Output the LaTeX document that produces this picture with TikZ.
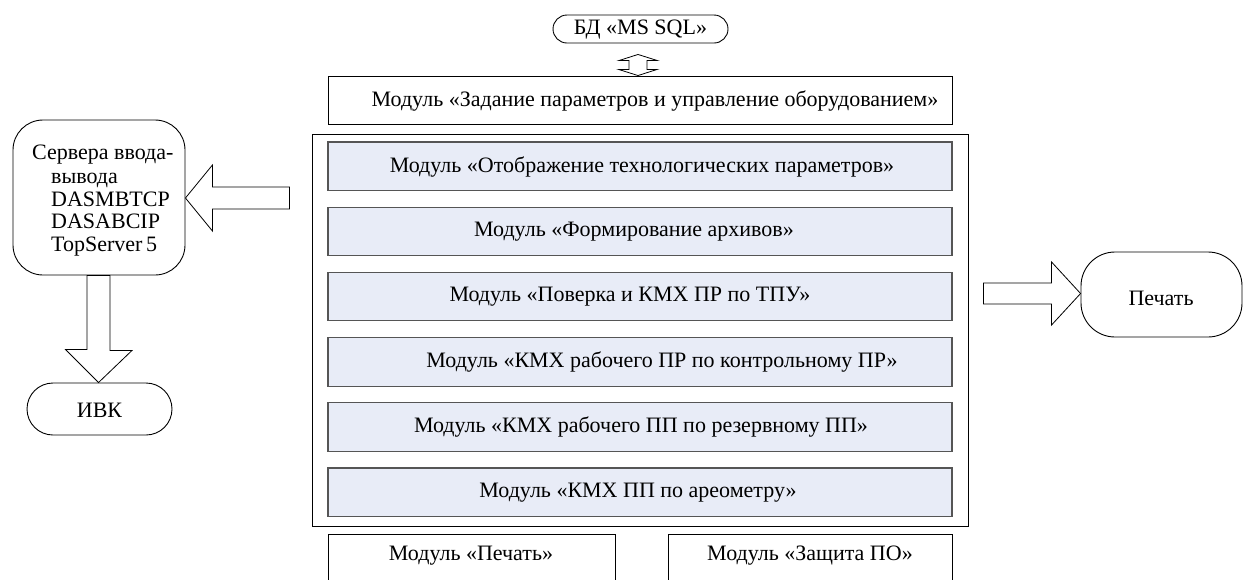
\documentclass[tikz,border=0pt]{standalone}
\usepackage{fontspec}
\setmainfont{Liberation Serif}
\usetikzlibrary{calc}
\definecolor{modfill}{RGB}{232,236,247}
\definecolor{modline}{RGB}{85,85,85}
\tikzset{
  every node/.style={font=\fontsize{22}{22.5}\selectfont, inner sep=0pt},
  plainbox/.style={draw=black, line width=0.9pt, minimum width=624pt, minimum height=48pt},
  modbox/.style={draw=modline, fill=modfill, line width=1.1pt, minimum width=624pt, minimum height=48.5pt},
  frame/.style={draw=black, line width=0.9pt, minimum width=656pt, minimum height=392pt},
  roundbox/.style={draw=black, line width=0.9pt, rounded corners=#1},
  blockarrow/.style={draw=black, line width=0.8pt, fill=white, line join=miter},
  txt/.style={inner sep=0pt}
}
\begin{document}
\begin{tikzpicture}[x=1pt,y=-1pt]
\useasboundingbox (0,0) rectangle (1244,579);
% database
\node[roundbox=14pt, minimum width=175pt, minimum height=28pt] (db) at (640.5,29) {};
\node[txt] (dbt) at (640.5,29.5) {БД «MS SQL»};
% top module
\node[plainbox] (m0) at (640,100) {};
\node[txt] (m0t) at (655,100.5) {Модуль «Задание параметров и управление оборудованием»};
% frame
\node[frame] (fr) at (640,330) {};
% inner modules
\node[modbox] (m1) at (640,166.25) {};
\node[txt] (m1t) at (642,166.5) {Модуль «Отображение технологических параметров»};
\node[modbox] (m2) at (640,231.45) {};
\node[txt] (m2t) at (634,231.7) {Модуль «Формирование архивов»};
\node[modbox] (m3) at (640,296.65) {};
\node[txt] (m3t) at (630,296.9) {Модуль «Поверка и КМХ ПР по ТПУ»};
\node[modbox] (m4) at (640,361.85) {};
\node[txt] (m4t) at (662,362.1) {Модуль «КМХ рабочего ПР по контрольному ПР»};
\node[modbox] (m5) at (640,427.05) {};
\node[txt] (m5t) at (641,427.3) {Модуль «КМХ рабочего ПП по резервному ПП»};
\node[modbox] (m6) at (640,492.25) {};
\node[txt] (m6t) at (638,492.5) {Модуль «КМХ ПП по ареометру»};
% bottom modules (cut by the page edge)
\node[draw=black, line width=0.9pt, minimum width=287pt, minimum height=66pt] (mp) at (471.5,567) {};
\node[txt] (mpt) at (471,556) {Модуль «Печать»};
\node[draw=black, line width=0.9pt, minimum width=284pt, minimum height=66pt] (mz) at (810,567) {};
\node[txt] (mzt) at (810,556) {Модуль «Защита ПО»};
% servers
\node[roundbox=30pt, minimum width=172pt, minimum height=155pt] (srv) at (99,197.5) {};
\node[txt, anchor=base west] (s1) at (32,159) {Сервера ввода-};
\node[txt, anchor=north west, align=left] (s2) at (51,173) {вывода\\DASMBTCP\\DASABCIP\\TopServer\,5};
% IVK
\node[roundbox=26pt, minimum width=145pt, minimum height=52pt] (ivk) at (99.5,409) {};
\node[txt] (ivkt) at (99.5,410) {ИВК};
% print
\node[roundbox=34pt, minimum width=161pt, minimum height=85pt] (pr) at (1161.5,294.5) {};
\node[txt] (prt) at (1161,298) {Печать};
% double arrow between DB and top module
\coordinate (dtop) at ($(db.south)+(-2.5,11)$);
\coordinate (dbot) at (m0.north -| dtop);
\draw[blockarrow] (dtop) -- ++(19,6) -- ++(-10,0) -- ++(0,9) -- ++(10,0) -- (dbot) -- ++(-19,-6) -- ++(10,0) -- ++(0,-9) -- ++(-10,0) -- cycle;
% arrow frame -> servers
\coordinate (ltip) at (srv.east |- 0,198);
\draw[blockarrow] (ltip) -- ++(27,-33) -- ++(0,22) -- ++(77,0) -- ++(0,22) -- ++(-77,0) -- ++(0,22) -- cycle;
% arrow servers -> IVK
\coordinate (dtip) at (ivk.north -| 98.5,0);
\coordinate (dsrc) at (srv.south -| 98.5,0);
\draw[blockarrow] (dtip) -- ++(-33,-33) -- ++(21.5,0) -- (dsrc -| 87,0) -- (dsrc -| 110,0) -- ++(0,75) -- ++(22,0) -- cycle;
% arrow frame -> print
\coordinate (rtip) at (pr.west |- 0,293.5);
\draw[blockarrow] (rtip) -- ++(-29,-31.5) -- ++(0,21) -- ++(-68,0) -- ++(0,21) -- ++(68,0) -- ++(0,21) -- cycle;
\end{tikzpicture}
\end{document}
